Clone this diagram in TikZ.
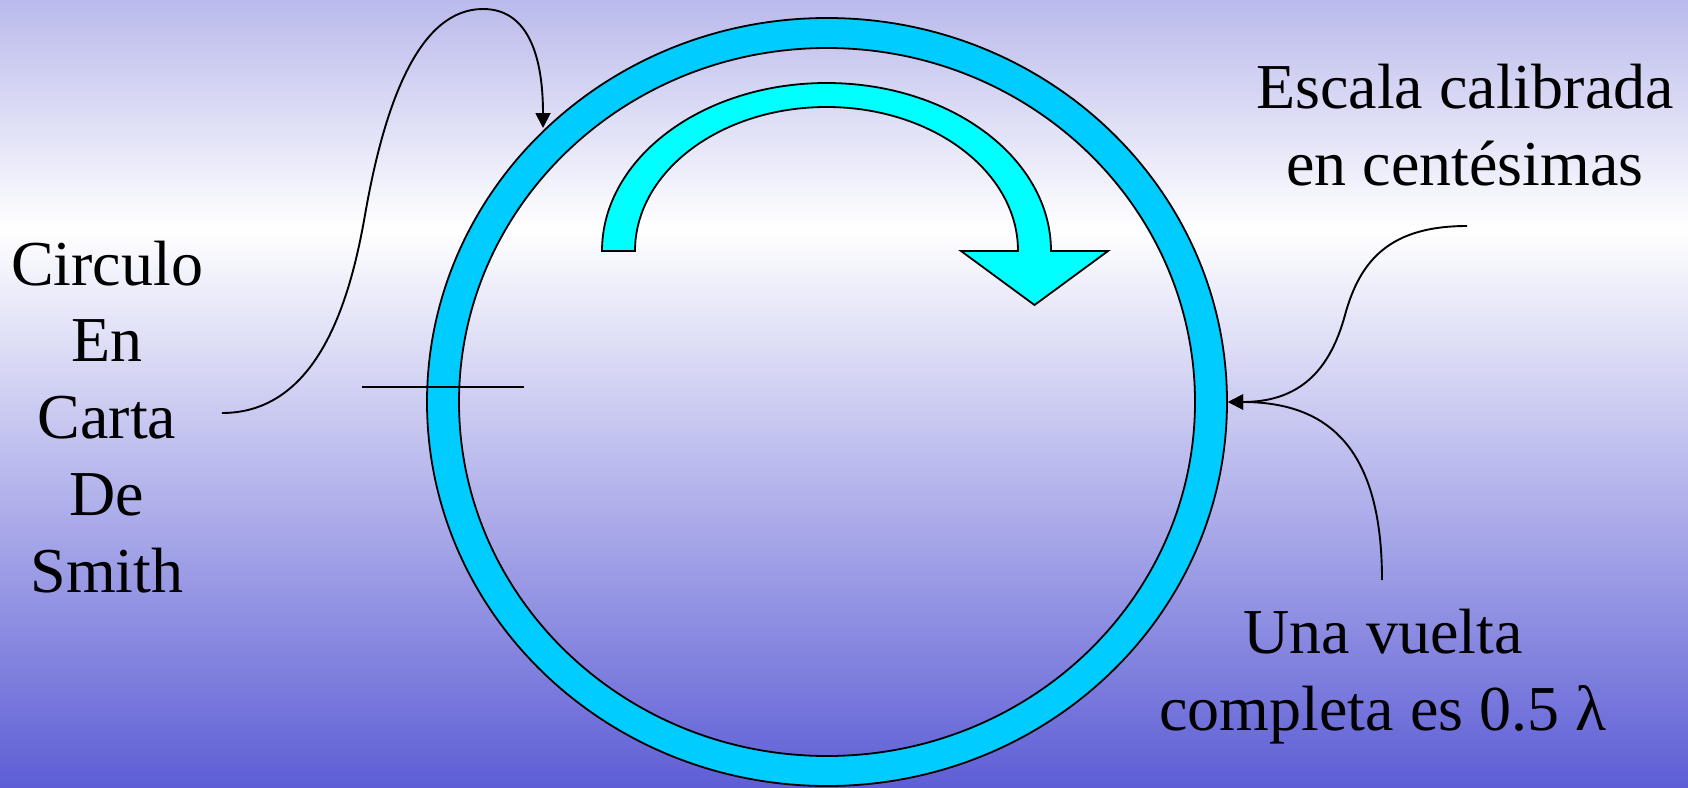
\documentclass[tikz,border=0pt]{standalone}
\usepackage{fontspec}
\setmainfont{Liberation Serif}
\usetikzlibrary{arrows.meta}
\definecolor{bgtop}{RGB}{186,186,236}
\definecolor{bgbot}{RGB}{94,94,214}
\definecolor{ringcol}{RGB}{0,204,255}
\definecolor{arrowcol}{RGB}{0,255,255}
\begin{document}
\begin{tikzpicture}[x=1pt,y=-1pt,
  lbl/.style={font=\fontsize{64}{76.7}\selectfont, align=center, inner sep=0pt, anchor=base},
  conn/.style={line width=1.9pt, -{Triangle[length=15pt,width=15pt]}},
  outline/.style={line width=1.8pt, draw=black}]
\useasboundingbox (0,0) rectangle (1688,787);
\shade[top color=bgtop, bottom color=white] (0,0) rectangle (1688,229);
\shade[top color=white, bottom color=bgbot] (0,228) rectangle (1688,787);
% ring
\coordinate (c) at (827,402);
\fill[ringcol, even odd rule] (c) ellipse [x radius=400pt, y radius=384pt] (c) ellipse [x radius=368pt, y radius=354pt];
\draw[outline] (c) ellipse [x radius=400pt, y radius=384pt];
\draw[outline] (c) ellipse [x radius=368pt, y radius=354pt];
% curved cyan arrow
\filldraw[fill=arrowcol, outline, line join=miter] (602,251) arc[start angle=180, end angle=0, x radius=224.5pt, y radius=168pt] -- (1108,251) -- (1034.5,305) -- (961,251) -- (1018,251) arc[start angle=0, end angle=180, x radius=191.5pt, y radius=144pt] -- cycle;
% horizontal mark
\coordinate (h1) at (362,387);
\coordinate (h2) at (524,387);
\draw[line width=2pt] (h1) -- (h2);
% labels
\node[lbl] (smith) at (107,592) {Circulo\\En\\Carta\\De\\Smith};
\node[lbl] (escala) at (1465,185) {Escala calibrada\\en centésimas};
\node[lbl] (vuelta) at (1383,730) {Una vuelta\\completa es 0.5 λ};
% connectors
\coordinate (s1) at (222,413);
\coordinate (t1) at (543,128);
\coordinate (s2) at (1467,226);
\coordinate (s3) at (1382,580);
\coordinate (t2) at (1228,402);
\draw[conn] (s1) .. controls (320,413) and (351,295) .. (365,215) .. controls (385,100) and (420,9) .. (483,9) .. controls (530,9) and (543,60) .. (t1);
\draw[conn] (s2) .. controls (1390,226) and (1360,260) .. (1345,315) .. controls (1330,370) and (1300,402) .. (t2);
\draw[conn] (s3) .. controls (1382,450) and (1330,402) .. (t2);
\end{tikzpicture}
\end{document}
